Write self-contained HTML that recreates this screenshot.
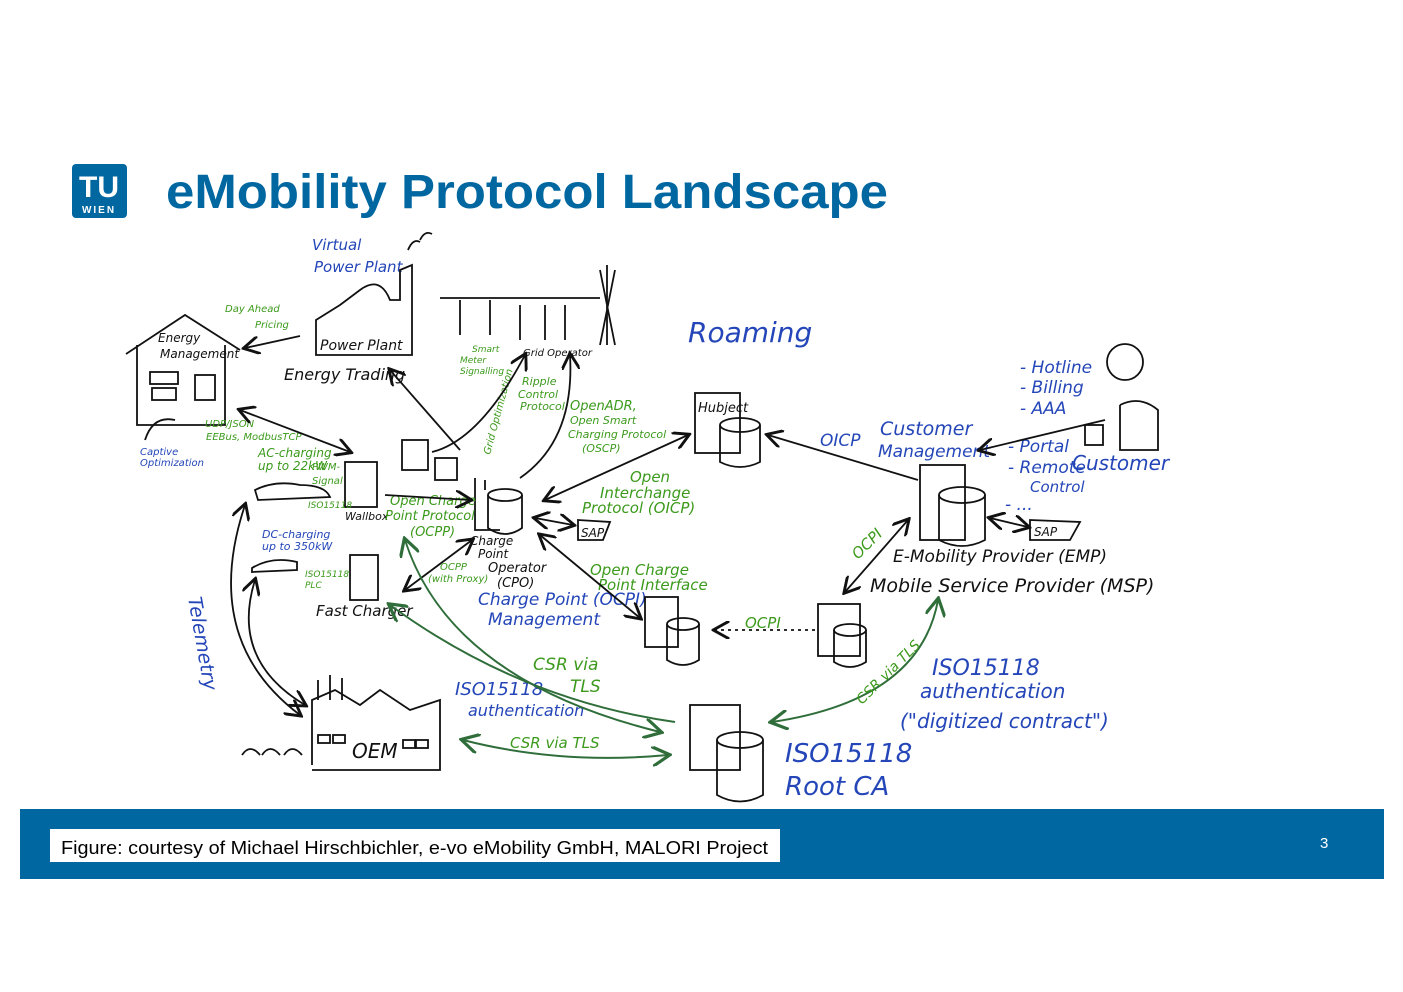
<!DOCTYPE html>
<html><head><meta charset="utf-8"><style>
html,body{margin:0;padding:0;background:#fff;}
body{width:1403px;height:992px;position:relative;overflow:hidden;font-family:"Liberation Sans",sans-serif;}
svg{position:absolute;left:0;top:0;}
.b{fill:#2446b8;font-family:"DejaVu Sans",sans-serif;font-style:italic;}
.g{fill:#3c9a1c;font-family:"DejaVu Sans",sans-serif;font-style:italic;}
.k{fill:#111;font-family:"DejaVu Sans",sans-serif;font-style:italic;}
.ln{stroke:#111;fill:none;stroke-width:1.8;}
.gl{stroke:#2f6e3a;fill:none;stroke-width:2;}
</style></head><body>
<svg width="1403" height="992" viewBox="0 0 1403 992">
<defs><marker id="a" markerWidth="10" markerHeight="10" refX="8" refY="5" orient="auto-start-reverse"><path d="M0,0 L9,5 L0,10" fill="none" stroke="#111" stroke-width="1.6"/></marker>
<marker id="ag" markerWidth="10" markerHeight="10" refX="8" refY="5" orient="auto-start-reverse"><path d="M0,0 L9,5 L0,10" fill="none" stroke="#2f6e3a" stroke-width="1.6"/></marker></defs>
<!-- logo -->
<rect x="72" y="164" width="55" height="54" rx="4" fill="#0067a0"/>
<text x="99" y="197" font-size="30" font-weight="bold" fill="#fff" text-anchor="middle" font-family="Liberation Sans">TU</text>
<text x="99" y="213" font-size="10" font-weight="bold" fill="#fff" text-anchor="middle" letter-spacing="2">WIEN</text>
<text x="166" y="208" font-size="48" font-weight="bold" fill="#0067a0" font-family="Liberation Sans" textLength="722" lengthAdjust="spacingAndGlyphs">eMobility Protocol Landscape</text>
<!-- footer -->
<rect x="20" y="809" width="1364" height="70" fill="#0067a0"/>
<rect x="50" y="829" width="730" height="33" fill="#fff"/>
<text x="61" y="854" font-size="18" fill="#000" textLength="707" lengthAdjust="spacingAndGlyphs">Figure: courtesy of Michael Hirschbichler, e-vo eMobility GmbH, MALORI Project</text>
<text x="1320" y="848" font-size="15" fill="#fff">3</text>
<!-- house -->
<path class="ln" d="M126,354 L185,315 L240,350 M137,345 L137,425 L225,425 L225,345"/>
<rect class="ln" x="150" y="372" width="28" height="12"/><rect class="ln" x="152" y="388" width="24" height="12"/><rect class="ln" x="195" y="375" width="20" height="25"/>
<text class="k" x="158" y="342" font-size="12">Energy</text><text class="k" x="160" y="358" font-size="12">Management</text>
<path class="ln" d="M145,440 q8,-25 30,-20" stroke="#2446b8"/>
<text class="b" x="140" y="455" font-size="10">Captive</text><text class="b" x="140" y="466" font-size="10">Optimization</text>
<text class="g" x="225" y="312" font-size="10">Day Ahead</text><text class="g" x="255" y="328" font-size="10">Pricing</text>
<path class="ln" d="M300,336 L245,348" marker-end="url(#a)"/>
<!-- power plant -->
<text class="b" x="312" y="250" font-size="15">Virtual</text><text class="b" x="314" y="272" font-size="15">Power Plant</text>
<path class="ln" d="M316,355 L316,320 L340,305 L360,290 Q380,275 390,300 L400,300 L400,270 L412,265 L412,355 Z"/>
<text class="k" x="320" y="350" font-size="14">Power Plant</text>
<text class="k" x="284" y="380" font-size="16">Energy Trading</text>
<path class="ln" d="M408,250 q5,-12 12,-8 M420,240 q5,-10 12,-6"/>
<!-- grid -->
<path class="ln" d="M440,298 L600,298 M460,300 L460,335 M490,300 L490,335 M520,305 L520,340 M545,305 L545,340 M565,305 L565,340 M600,270 L615,345 M615,270 L600,345 M607,265 L607,345"/>
<text class="k" x="523" y="356" font-size="10">Grid Operator</text>
<text class="g" x="472" y="352" font-size="9">Smart</text><text class="g" x="460" y="363" font-size="9">Meter</text><text class="g" x="460" y="374" font-size="9">Signalling</text>
<text class="g" x="522" y="385" font-size="11">Ripple</text><text class="g" x="518" y="398" font-size="11">Control</text><text class="g" x="520" y="410" font-size="11">Protocol</text>
<text class="g" x="570" y="410" font-size="13">OpenADR,</text><text class="g" x="570" y="424" font-size="11">Open Smart</text><text class="g" x="568" y="438" font-size="11">Charging Protocol</text><text class="g" x="582" y="452" font-size="11">(OSCP)</text>
<text class="g" font-size="10" transform="translate(490,455) rotate(-75)">Grid Optimization</text>
<!-- roaming -->
<text class="b" x="688" y="342" font-size="28">Roaming</text>
<!-- wallbox -->
<rect class="ln" x="345" y="462" width="32" height="45"/><text class="k" x="345" y="520" font-size="11">Wallbox</text>
<rect class="ln" x="402" y="440" width="26" height="30"/><rect class="ln" x="435" y="458" width="22" height="22"/>
<text class="g" x="205" y="427" font-size="10">UDP/JSON</text><text class="g" x="206" y="440" font-size="10">EEBus, ModbusTCP</text>
<text class="g" x="258" y="457" font-size="12">AC-charging</text><text class="g" x="258" y="470" font-size="12">up to 22kW</text>
<text class="g" x="312" y="470" font-size="10">PWM-</text><text class="g" x="312" y="484" font-size="10">Signal</text>
<text class="g" x="308" y="508" font-size="9">ISO15118</text>
<path class="ln" d="M255,490 q20,-10 45,-5 q25,0 30,12 L258,500 Z"/>
<path class="ln" d="M240,410 L350,452" marker-start="url(#a)" marker-end="url(#a)"/>
<path class="ln" d="M390,370 L460,450" marker-start="url(#a)"/>
<!-- CPO -->
<path class="ln" d="M475,478 L475,530 L500,530 M485,480 L485,490"/>
<ellipse class="ln" cx="505" cy="495" rx="17" ry="6"/><path class="ln" d="M488,495 L488,528 Q505,540 522,528 L522,495"/>
<text class="k" x="470" y="545" font-size="12">Charge</text><text class="k" x="478" y="558" font-size="12">Point</text>
<text class="k" x="488" y="572" font-size="13">Operator</text><text class="k" x="497" y="587" font-size="13">(CPO)</text>
<text class="g" x="390" y="505" font-size="13">Open Charge</text><text class="g" x="385" y="520" font-size="13">Point Protocol</text><text class="g" x="410" y="536" font-size="13">(OCPP)</text>
<path class="ln" d="M385,495 L470,500" marker-end="url(#a)"/>
<path class="ln" d="M432,452 Q480,440 525,355" marker-end="url(#a)"/>
<path class="ln" d="M520,478 Q575,440 570,355" marker-end="url(#a)"/>
<path class="ln" d="M545,500 L688,435" marker-start="url(#a)" marker-end="url(#a)"/>
<text class="g" x="630" y="482" font-size="15">Open</text><text class="g" x="600" y="498" font-size="15">Interchange</text><text class="g" x="582" y="513" font-size="15">Protocol (OICP)</text>
<path class="ln" d="M578,520 L610,522 L603,540 L578,540 Z"/><text class="k" x="581" y="537" font-size="12">SAP</text>
<path class="ln" d="M535,518 L573,525" marker-start="url(#a)" marker-end="url(#a)"/>
<!-- fast charger -->
<text class="b" x="262" y="538" font-size="11">DC-charging</text><text class="b" x="262" y="550" font-size="11">up to 350kW</text>
<path class="ln" d="M252,568 q20,-12 45,-6 l0,8 L252,572 Z"/>
<rect class="ln" x="350" y="555" width="28" height="45"/>
<text class="g" x="305" y="577" font-size="9">ISO15118</text><text class="g" x="305" y="588" font-size="9">PLC</text>
<text class="k" x="316" y="616" font-size="15">Fast Charger</text>
<text class="g" x="440" y="570" font-size="10">OCPP</text><text class="g" x="428" y="582" font-size="10">(with Proxy)</text>
<path class="ln" d="M472,540 L405,590" marker-start="url(#a)" marker-end="url(#a)"/>
<!-- CPO management -->
<text class="b" x="478" y="605" font-size="17">Charge Point (OCPI)</text><text class="b" x="488" y="625" font-size="17">Management</text>
<text class="g" x="590" y="575" font-size="15">Open Charge</text><text class="g" x="598" y="590" font-size="15">Point Interface</text>
<path class="ln" d="M540,535 L640,618" marker-start="url(#a)" marker-end="url(#a)"/>
<rect class="ln" x="645" y="597" width="33" height="50"/>
<ellipse class="ln" cx="683" cy="624" rx="16" ry="6"/><path class="ln" d="M667,624 L667,660 Q683,670 699,660 L699,624"/>
<rect class="ln" x="818" y="604" width="42" height="52"/>
<ellipse class="ln" cx="850" cy="630" rx="16" ry="6"/><path class="ln" d="M834,630 L834,662 Q850,672 866,662 L866,630"/>
<text class="g" x="745" y="628" font-size="15">OCPI</text>
<path class="ln" d="M815,630 L715,630" marker-end="url(#a)" stroke-dasharray="3 4"/>
<!-- hubject -->
<rect class="ln" x="695" y="393" width="45" height="60"/><text class="k" x="698" y="412" font-size="13">Hubject</text>
<ellipse class="ln" cx="740" cy="425" rx="20" ry="7"/><path class="ln" d="M720,425 L720,462 Q740,472 760,462 L760,425"/>
<text x="820" y="446" font-size="17" class="b">OICP</text>
<path class="ln" d="M768,435 L918,480" marker-start="url(#a)"/>
<!-- EMP -->
<text class="b" x="880" y="435" font-size="19">Customer</text><text class="b" x="878" y="457" font-size="17">Management</text>
<rect class="ln" x="920" y="465" width="45" height="75"/>
<ellipse class="ln" cx="962" cy="495" rx="23" ry="8"/><path class="ln" d="M939,495 L939,540 Q962,552 985,540 L985,495"/>
<path class="ln" d="M1030,520 L1080,522 L1070,540 L1030,540 Z"/><text class="k" x="1034" y="536" font-size="12">SAP</text>
<path class="ln" d="M990,518 L1028,527" marker-start="url(#a)" marker-end="url(#a)"/>
<text class="k" x="893" y="562" font-size="17">E-Mobility Provider (EMP)</text>
<text class="k" x="870" y="592" font-size="19">Mobile Service Provider (MSP)</text>
<text class="g" font-size="15" transform="translate(858,560) rotate(-45)">OCPI</text>
<path class="ln" d="M908,520 L845,592" marker-start="url(#a)" marker-end="url(#a)"/>
<text class="b" x="1020" y="373" font-size="17">- Hotline</text><text class="b" x="1020" y="393" font-size="17">- Billing</text><text class="b" x="1020" y="414" font-size="17">- AAA</text>
<text class="b" x="1008" y="452" font-size="17">- Portal</text><text class="b" x="1008" y="473" font-size="17">- Remote</text><text class="b" x="1030" y="492" font-size="15">Control</text><text class="b" x="1005" y="510" font-size="17">- ...</text>
<text class="b" x="1072" y="470" font-size="20">Customer</text>
<path class="ln" d="M1105,420 L980,450" marker-end="url(#a)"/>
<circle class="ln" cx="1125" cy="362" r="18"/><path class="ln" d="M1120,405 L1120,450 L1158,450 L1158,410 Q1140,395 1120,405"/>
<rect class="ln" x="1085" y="425" width="18" height="20"/>
<!-- OEM -->
<path class="ln" d="M312,765 L312,700 L335,690 L360,705 L380,690 L410,710 L440,700 L440,770 L312,770"/>
<path class="ln" d="M318,680 L318,700 M330,675 L330,700 M342,678 L342,700"/>
<rect class="ln" x="318" y="735" width="12" height="8"/><rect class="ln" x="333" y="735" width="12" height="8"/><rect class="ln" x="403" y="740" width="12" height="8"/><rect class="ln" x="416" y="740" width="12" height="8"/>
<text class="k" x="352" y="758" font-size="20">OEM</text>
<path class="ln" d="M242,755 q8,-12 18,0 M262,755 q8,-12 18,0 M284,755 q8,-12 18,0" stroke-width="1.4"/>
<text class="b" font-size="19" transform="translate(188,598) rotate(80)">Telemetry</text>
<path class="ln" d="M300,715 Q200,640 245,505" marker-start="url(#a)" marker-end="url(#a)"/>
<path class="ln" d="M305,705 Q230,660 255,580" marker-start="url(#a)" marker-end="url(#a)"/>
<!-- root CA -->
<rect class="ln" x="690" y="705" width="50" height="65"/>
<ellipse class="ln" cx="740" cy="740" rx="23" ry="8"/><path class="ln" d="M717,740 L717,795 Q740,808 763,795 L763,740"/>
<text class="b" x="785" y="762" font-size="26">ISO15118</text><text class="b" x="785" y="795" font-size="26">Root CA</text>
<text class="g" x="533" y="670" font-size="17">CSR via</text><text class="g" x="570" y="692" font-size="17">TLS</text>
<text class="b" x="455" y="695" font-size="18">ISO15118</text><text class="b" x="468" y="716" font-size="16">authentication</text>
<text class="g" x="510" y="748" font-size="15">CSR via TLS</text>
<path class="gl" d="M405,540 Q450,680 660,732" marker-start="url(#ag)" marker-end="url(#ag)"/>
<path class="gl" d="M390,605 Q520,700 675,722" marker-start="url(#ag)"/>
<path class="gl" d="M463,740 Q560,765 668,755" marker-start="url(#ag)" marker-end="url(#ag)"/>
<path class="gl" d="M772,722 Q920,700 938,600" marker-start="url(#ag)" marker-end="url(#ag)"/>
<text class="g" font-size="14" transform="translate(862,705) rotate(-45)">CSR via TLS</text>
<text class="b" x="932" y="675" font-size="22">ISO15118</text><text class="b" x="920" y="698" font-size="20">authentication</text><text class="b" x="900" y="728" font-size="20">("digitized contract")</text>
</svg>
</body></html>
